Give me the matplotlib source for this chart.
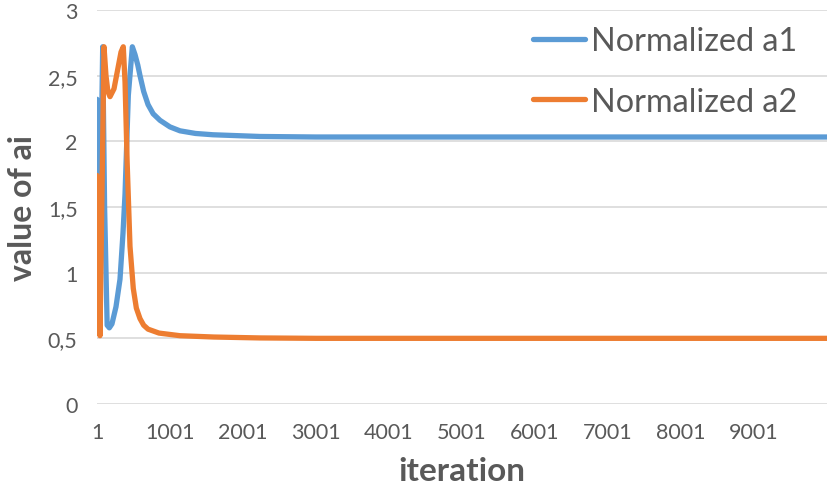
import matplotlib
matplotlib.use("Agg")
import matplotlib.pyplot as plt
from matplotlib.ticker import FuncFormatter

plt.rcParams['font.family'] = ['Lato', 'DejaVu Sans']

# Data (iteration, value)
a1_iter = [1, 24, 79, 105, 140, 170, 206, 261, 316, 357, 385, 430, 485, 522, 560, 590, 640, 700, 770, 864, 1000, 1138, 1350, 1590, 2234, 3000, 10000]
a1_vals = [2.32, 0.56, 2.72, 1.5, 0.60, 0.58, 0.61, 0.74, 0.95, 1.3, 1.6, 2.35, 2.72, 2.66, 2.58, 2.50, 2.38, 2.28, 2.21, 2.16, 2.11, 2.08, 2.06, 2.05, 2.037, 2.033, 2.033]

a2_iter = [1, 42, 97, 124, 150, 179, 234, 289, 330, 361, 385, 414, 453, 498, 540, 590, 640, 700, 850, 1138, 1600, 2234, 3000, 10000]
a2_vals = [1.74, 0.52, 2.72, 2.5, 2.38, 2.34, 2.40, 2.56, 2.68, 2.72, 2.45, 1.84, 1.2, 0.88, 0.73, 0.65, 0.60, 0.57, 0.54, 0.52, 0.51, 0.503, 0.50, 0.50]

x_ticks = [1, 1001, 2001, 3001, 4001, 5001, 6001, 7001, 8001, 9001]
y_ticks = [0, 0.5, 1, 1.5, 2, 2.5, 3]

BLUE = '#5B9BD5'
ORANGE = '#ED7D31'
GRAY = '#595959'

fig = plt.figure(figsize=(8.30, 4.89), dpi=100)
ax = fig.add_axes([97/830, 84/489, 730/830, 394/489])

ax.plot(a1_iter, a1_vals, color=BLUE, lw=3.8, label='Normalized a1', solid_capstyle='round', solid_joinstyle='round')
ax.plot(a2_iter, a2_vals, color=ORANGE, lw=3.8, label='Normalized a2', solid_capstyle='round', solid_joinstyle='round')

ax.set_xlim(1, 10000)
ax.set_ylim(0, 3)
ax.set_xticks(x_ticks)
ax.set_yticks(y_ticks)
ax.yaxis.set_major_formatter(FuncFormatter(lambda v, p: ('%g' % v).replace('.', ',')))

for s in ax.spines.values():
    s.set_visible(False)
ax.grid(axis='y', color='#D9D9D9', lw=1.2)
ax.set_axisbelow(True)
ax.tick_params(axis='both', length=0, labelsize=15.5, labelcolor=GRAY)
ax.tick_params(axis='x', pad=13)
ax.tick_params(axis='y', pad=14)

ax.set_xlabel('iteration', fontsize=24, fontweight='bold', color=GRAY, labelpad=10)
ax.set_ylabel('value of ai', fontsize=23, fontweight='bold', color=GRAY, labelpad=8)

leg = ax.legend(loc='upper left', bbox_to_anchor=(533/830, 1 - 27/489), bbox_transform=fig.transFigure,
                frameon=False, fontsize=23.3, labelcolor=GRAY, handlelength=1.6, handletextpad=0.2,
                labelspacing=0.95, borderpad=0, borderaxespad=0)

fig.savefig('out.png', dpi=100)
